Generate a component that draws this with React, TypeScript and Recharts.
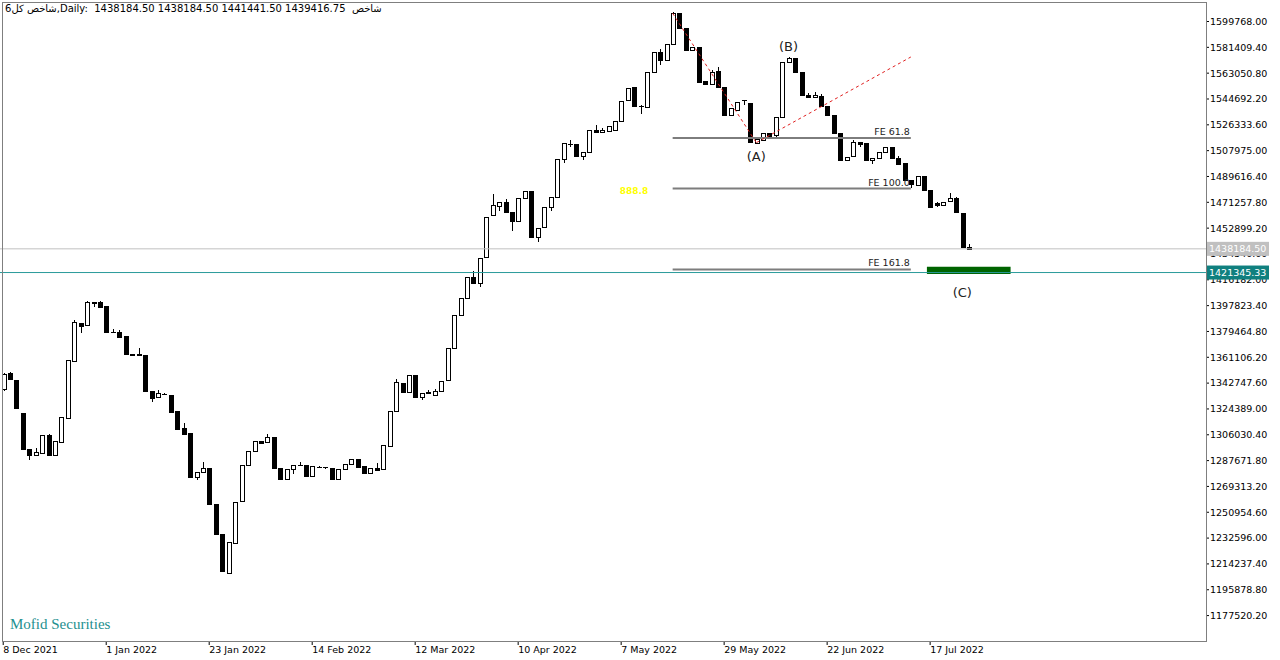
import React from 'react';
import { ComposedChart, Bar, XAxis, YAxis, ReferenceLine, ReferenceArea, ReferenceDot } from 'recharts';

const opens = [
  1338560, 1349720, 1344960, 1321290, 1295710, 1291870, 1293290, 1305870, 1291650, 1301110,
  1318170, 1358680, 1385690, 1384050, 1400400, 1400400, 1397560, 1379290, 1379290, 1376240,
  1363090, 1362940, 1362520, 1337140, 1333090, 1335010, 1334300, 1322930, 1311060, 1307080,
  1276230, 1279790, 1282200, 1256830, 1235500, 1208000, 1229320, 1259170, 1284550, 1294500,
  1301610, 1301110, 1304660, 1282200, 1274380, 1281490, 1284550, 1284330, 1276730, 1283340,
  1282910, 1282630, 1274380, 1281700, 1285040, 1288600, 1283840, 1279070, 1282200, 1281490,
  1298050, 1322930, 1342620, 1336220, 1348520, 1333090, 1335940, 1334300, 1336930, 1344960,
  1367490, 1390950, 1403460, 1418380, 1414120, 1432170, 1462240, 1468630, 1471260, 1464160,
  1458190, 1474110, 1479300, 1446390, 1453920, 1468140, 1475240, 1501830, 1512700, 1512490,
  1504170, 1507230, 1522650, 1521020, 1521940, 1522650, 1529260, 1543970, 1553000, 1539710,
  1539210, 1564090, 1578300, 1572400, 1583560, 1605600, 1594940, 1579510, 1581860, 1557270,
  1555350, 1564590, 1553000, 1533310, 1536870, 1543970, 1541630, 1513630, 1515540, 1520310,
  1519100, 1532100, 1571200, 1573610, 1564090, 1547530, 1545890, 1546820, 1539710, 1533310,
  1520310, 1501330, 1504170, 1513910, 1513630, 1501330, 1502540, 1507230, 1510780, 1502960,
  1498980, 1487110, 1483560, 1489960, 1480010, 1470550, 1469130, 1472190, 1474110, 1463870,
  1439416.75,
];

const highs = [
  1349940, 1350430, 1344960, 1321510, 1295710, 1296420, 1305870, 1306580, 1301610, 1318880,
  1359180, 1387390, 1385690, 1401320, 1400400, 1401110, 1397560, 1381000, 1380500, 1376240,
  1363440, 1367490, 1362520, 1337140, 1337850, 1335370, 1334300, 1322930, 1314610, 1307080,
  1279790, 1286680, 1282200, 1256830, 1235500, 1229610, 1258460, 1284550, 1294500, 1301820,
  1301610, 1306580, 1304660, 1282200, 1281490, 1284550, 1286680, 1284330, 1283840, 1284190,
  1283480, 1282630, 1281700, 1285260, 1288600, 1288600, 1283840, 1282200, 1285760, 1298760,
  1322930, 1345460, 1342620, 1348520, 1348520, 1335510, 1337850, 1338350, 1344460, 1367490,
  1390950, 1403460, 1418380, 1422650, 1431460, 1461030, 1476950, 1471260, 1473400, 1464160,
  1474110, 1479510, 1479300, 1452780, 1467710, 1475240, 1501830, 1513200, 1515540, 1512490,
  1507230, 1522650, 1525990, 1524290, 1525710, 1528840, 1543480, 1552290, 1553000, 1540070,
  1564090, 1578300, 1580220, 1583560, 1606520, 1605600, 1594940, 1581860, 1581860, 1557270,
  1565300, 1567640, 1553000, 1538080, 1542770, 1544120, 1541630, 1516040, 1520310, 1520310,
  1532100, 1571200, 1574750, 1573610, 1564090, 1548740, 1549450, 1548240, 1539710, 1533310,
  1520310, 1503670, 1515540, 1513910, 1513630, 1502960, 1507230, 1510780, 1510780, 1504170,
  1498980, 1487110, 1489960, 1489960, 1480010, 1471480, 1471690, 1477660, 1475240, 1463870,
  1441441.5,
];

const lows = [
  1337850, 1345460, 1325060, 1295710, 1288600, 1291870, 1293290, 1291650, 1291650, 1301110,
  1318170, 1358680, 1379290, 1384050, 1397560, 1397060, 1378860, 1379080, 1375740, 1363440,
  1362730, 1362730, 1337360, 1330040, 1333090, 1334660, 1322430, 1310350, 1306580, 1276230,
  1274380, 1279790, 1256830, 1235500, 1209210, 1208000, 1229320, 1259170, 1284550, 1294500,
  1299970, 1301110, 1282630, 1274380, 1274380, 1279070, 1284330, 1276730, 1276730, 1282770,
  1282630, 1274380, 1274380, 1281700, 1285040, 1283340, 1279070, 1279070, 1281210, 1281490,
  1298050, 1322930, 1336650, 1336220, 1332880, 1331240, 1335720, 1334300, 1336930, 1344960,
  1367490, 1390950, 1403460, 1414120, 1411990, 1432170, 1462240, 1465790, 1464160, 1451580,
  1458190, 1474110, 1446390, 1443970, 1453920, 1465790, 1475240, 1500120, 1511280, 1504170,
  1501830, 1507230, 1521440, 1521020, 1521940, 1522650, 1529260, 1543970, 1539710, 1534520,
  1539210, 1564090, 1569560, 1572400, 1583560, 1594940, 1579510, 1579510, 1556980, 1555350,
  1555350, 1553000, 1533310, 1533310, 1536870, 1541130, 1514340, 1513630, 1515540, 1518600,
  1517180, 1532100, 1571200, 1564090, 1547530, 1545890, 1545890, 1539710, 1533310, 1520310,
  1501330, 1501330, 1504170, 1511280, 1501330, 1499410, 1502540, 1507230, 1502540, 1498490,
  1487110, 1482350, 1483560, 1480010, 1468140, 1468280, 1469130, 1472190, 1464580, 1439280,
  1438184.5,
];

const closes = [
  1349230, 1345460, 1325060, 1295710, 1291870, 1293790, 1305870, 1291650, 1301610, 1318880,
  1359180, 1386190, 1383340, 1400400, 1399480, 1397060, 1378860, 1379430, 1375740, 1363440,
  1362940, 1363230, 1337360, 1332380, 1335940, 1334870, 1322430, 1310350, 1306580, 1276230,
  1279790, 1282200, 1256830, 1235500, 1209210, 1229610, 1258460, 1284550, 1294500, 1301820,
  1299970, 1304660, 1282630, 1274380, 1281490, 1284550, 1284690, 1276730, 1283840, 1283480,
  1283050, 1274380, 1281700, 1285260, 1288600, 1283340, 1279070, 1282200, 1281210, 1298760,
  1322930, 1343540, 1336650, 1348520, 1332880, 1335510, 1336080, 1337360, 1344460, 1367490,
  1390950, 1403460, 1418380, 1414120, 1431460, 1461030, 1469340, 1471260, 1464160, 1457970,
  1474110, 1479510, 1446390, 1452780, 1467710, 1475240, 1501830, 1513200, 1512840, 1504170,
  1507230, 1522650, 1521440, 1522650, 1525710, 1528840, 1543480, 1552290, 1539710, 1539850,
  1564090, 1578300, 1572400, 1583560, 1606020, 1594940, 1579510, 1581860, 1556980, 1555350,
  1564090, 1553000, 1533310, 1538080, 1542770, 1543830, 1514340, 1516040, 1520310, 1518600,
  1532100, 1571200, 1573610, 1564090, 1547530, 1545890, 1547530, 1539710, 1533310, 1520310,
  1501330, 1503670, 1514340, 1512700, 1501330, 1502960, 1507230, 1510780, 1502540, 1498490,
  1487110, 1484060, 1489960, 1480010, 1468140, 1469130, 1471690, 1474530, 1464580, 1439280,
  1438184.5,
];

const dateLabels = [
  '8 Dec 2021', '1 Jan 2022', '23 Jan 2022', '14 Feb 2022', '12 Mar 2022',
  '10 Apr 2022', '7 May 2022', '29 May 2022', '22 Jun 2022', '17 Jul 2022',
];
const dateTickIndex = [0, 16, 32, 48, 64, 80, 96, 112, 128, 144];

const priceTicks = [
  1599768.0, 1581409.4, 1563050.8, 1544692.2, 1526333.6, 1507975.0, 1489616.4, 1471257.8,
  1452899.2, 1434540.6, 1416182.0, 1397823.4, 1379464.8, 1361106.2, 1342747.6, 1324389.0,
  1306030.4, 1287671.8, 1269313.2, 1250954.6, 1232596.0, 1214237.4, 1195878.8, 1177520.2,
];

const bidPrice = 1438184.5;
const targetPrice = 1421345.33;
const priceMarkers = [
  { value: bidPrice, line: '#c0c0c0', box: '#c0c0c0' },
  { value: targetPrice, line: '#2a9a9a', box: '#10807f' },
];
const feLevels = [
  { name: 'FE 61.8', value: 1517000 },
  { name: 'FE 100.0', value: 1481000 },
  { name: 'FE 161.8', value: 1423500 },
];
const feStart = 104;
const feEnd = 141;
const waveLines = [
  { from: { x: 104, y: 1605600 }, to: { x: 117, y: 1513630 } },
  { from: { x: 117, y: 1513630 }, to: { x: 141, y: 1574540 } },
];
const waveLabels = [
  { x: 117, y: 1504170, text: '(A)' },
  { x: 122, y: 1582360, text: '(B)' },
  { x: 149, y: 1407510, text: '(C)' },
];
const yellowLabel = { x: 98, y: 1479300, text: '888.8' };
const targetZone = { x1: 144, x2: 156, y1: 1420300, y2: 1425490 };

const totalSlots = 187;
const data = Array.from({ length: totalSlots }, (_, i) =>
  i < opens.length
    ? { i, o: opens[i], h: highs[i], l: lows[i], c: closes[i], range: [lows[i], highs[i]] }
    : { i }
);

const FONT = 'DejaVu Sans, Verdana, sans-serif';

const Candle = (props: any) => {
  const { x, y, width, height, payload } = props;
  if (!payload || payload.o == null || x == null || isNaN(y)) return <g />;
  const { o, h, l, c } = payload;
  const span = h - l;
  const py = (v: number) => (span > 0 ? y + ((h - v) / span) * height : y);
  const cx = Math.round(x + width / 2);
  const top = Math.round(py(Math.max(o, c)));
  const bot = Math.round(py(Math.min(o, c)));
  const bull = c >= o;
  const wx = cx + 0.5;
  const hy = Math.round(py(h));
  const ly = Math.round(py(l));
  return (
    <g>
      {ly > hy && <line x1={wx} x2={wx} y1={hy} y2={ly + 1} stroke="#000" strokeWidth={1} />}
      {bot - top >= 1 ? (
        <rect x={cx - 1.5} y={top + 0.5} width={4} height={bot - top} fill={bull ? '#fff' : '#000'} stroke="#000" strokeWidth={1} />
      ) : (
        <line x1={cx - 2} x2={cx + 3} y1={top + 0.5} y2={top + 0.5} stroke="#000" strokeWidth={1} />
      )}
    </g>
  );
};

const DateTick = (props: any) => {
  const { x, y, payload } = props;
  const k = dateTickIndex.indexOf(Number(payload.value));
  if (k < 0) return <g />;
  return (
    <text x={x} y={y + 6} textAnchor="start" fontSize={9.5} fontFamily={FONT} fill="#000">
      {dateLabels[k]}
    </text>
  );
};

// Y-axis tick that also draws the price marker boxes on top of the labels they cover
const PriceTick = (props: any) => {
  const { x, y, payload } = props;
  return (
    <text x={x} y={y} dy="0.355em" textAnchor="start" fontSize={9.5} fontFamily={FONT} fill="#000">
      {Number(payload.value).toFixed(2)}
    </text>
  );
};

const priceBox = (text: string, bg: string) => (props: any) => {
  const vb = props.viewBox || {};
  const bx = vb.x + vb.width + 1;
  const by = vb.y;
  return (
    <g>
      <rect x={bx} y={by - 7} width={62} height={14} fill={bg} />
      <text x={bx + 2} y={by + 3.5} fontSize={9.5} fontFamily={FONT} fill="#fff">{text}</text>
    </g>
  );
};

const feLabel = (text: string) => (props: any) => {
  const vb = props.viewBox || {};
  return (
    <text x={vb.x + vb.width - 1} y={vb.y - 3} textAnchor="end" fontSize={9.5} fontFamily={FONT} fill="#222">
      {text}
    </text>
  );
};

export default function App() {
  return (
    <div style={{ position: 'fixed', left: 0, top: 0, width: 1280, height: 660, background: '#fff', overflow: 'hidden' }}>
      <ComposedChart
        width={1280}
        height={660}
        data={data}
        margin={{ top: 2, right: 0, bottom: 0, left: 0 }}
        barCategoryGap={0}
        style={{ fontFamily: FONT }}
      >
        <XAxis
          dataKey="i"
          type="category"
          ticks={dateTickIndex}
          interval={0}
          height={19}
          padding={{ left: 0, right: 2.3 }}
          axisLine={false}
          tickLine={{ stroke: '#000' }}
          tickSize={4}
          tick={<DateTick />}
        />
        <YAxis
          orientation="right"
          type="number"
          domain={[1159453, 1613628]}
          allowDataOverflow
          ticks={priceTicks}
          interval={0}
          width={74}
          axisLine={false}
          tickLine={{ stroke: '#000' }}
          tickSize={3}
          tickMargin={1}
          tick={<PriceTick />}
        />
        {feLevels.map((f) => (
          <ReferenceLine
            key={f.name}
            segment={[{ x: feStart, y: f.value }, { x: feEnd, y: f.value }]}
            stroke="#7d7d7d"
            strokeWidth={2}
            ifOverflow="visible"
            label={feLabel(f.name)}
          />
        ))}
        {waveLines.map((w, k) => (
          <ReferenceLine
            key={'w' + k}
            segment={[w.from, w.to]}
            stroke="#e02020"
            strokeWidth={1}
            strokeDasharray="3 3"
            ifOverflow="visible"
          />
        ))}
        <ReferenceArea
          x1={targetZone.x1}
          x2={targetZone.x2}
          y1={targetZone.y1}
          y2={targetZone.y2}
          fill="#006400"
          fillOpacity={1}
          stroke="none"
          ifOverflow="visible"
        />
        <Bar dataKey="range" barSize={5} isAnimationActive={false} shape={(p: any) => <Candle {...p} />} />
        {waveLabels.map((w) => (
          <ReferenceDot
            key={w.text}
            x={w.x}
            y={w.y}
            r={1}
            fill="none"
            stroke="none"
            ifOverflow="visible"
            label={{ value: w.text, position: 'center', fontSize: 13, fill: '#222', fontFamily: FONT }}
          />
        ))}
        <ReferenceDot
          x={yellowLabel.x}
          y={yellowLabel.y}
          r={1}
          fill="none"
          stroke="none"
          ifOverflow="visible"
          label={{ value: yellowLabel.text, position: 'center', fontSize: 9, fill: '#ffff00', fontWeight: 'bold', fontFamily: FONT }}
        />
        {priceMarkers.map((m) => (
          <ReferenceLine
            key={'pm' + m.value}
            y={m.value}
            stroke={m.line}
            strokeWidth={1}
            ifOverflow="visible"
            zIndex={2000}
            label={priceBox(m.value.toFixed(2), m.box)}
          />
        ))}
      </ComposedChart>
      <div
        style={{
          position: 'absolute', left: 2, top: 2, width: 1205, height: 640,
          border: '1px solid #7f7f7f', boxSizing: 'border-box', pointerEvents: 'none',
        }}
      />
      <div style={{ position: 'absolute', left: 5, top: 3, fontSize: 10, fontFamily: FONT, color: '#000', whiteSpace: 'pre', lineHeight: '12px' }}>
        {'شاخص کل6,Daily:  1438184.50 1438184.50 1441441.50 1439416.75  شاخص'}
      </div>
      <div style={{ position: 'absolute', left: 10, top: 615, fontSize: 15, fontFamily: 'Liberation Serif, serif', color: '#23908f', lineHeight: '18px' }}>
        Mofid Securities
      </div>
    </div>
  );
}
